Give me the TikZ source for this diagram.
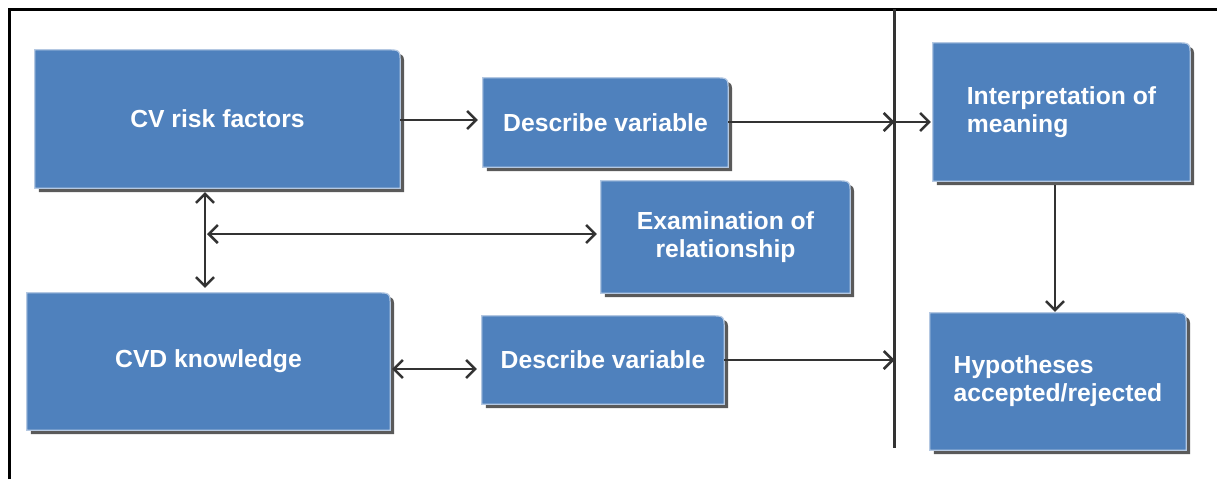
\documentclass[tikz,border=0pt]{standalone}
\usepackage{fontspec}
\setmainfont{Liberation Sans}
\usetikzlibrary{arrows.meta,backgrounds,calc}
\definecolor{boxblue}{HTML}{4F81BD}
\definecolor{boxedge}{HTML}{B4C8E2}
\definecolor{shadowc}{HTML}{5A5A5A}
\definecolor{linec}{HTML}{333333}
\newcommand\mybgshape[1]{%
  \fill[shadowc] ([shift={(4pt,-4pt)}]#1.south west) -- ([shift={(4pt,-4pt)}]#1.north west)
    -- ([shift={(-10pt,-4pt)}]#1.north east) .. controls ([shift={(4pt,-4pt)}]#1.north east) .. ([shift={(4pt,-18pt)}]#1.north east)
    -- ([shift={(4pt,-4pt)}]#1.south east) -- cycle;
  \filldraw[fill=boxblue,draw=boxedge,line width=1.2pt] (#1.south west) -- (#1.north west)
    -- ([xshift=-14pt]#1.north east) .. controls (#1.north east) .. ([yshift=-14pt]#1.north east)
    -- (#1.south east) -- cycle;
}
\tikzset{
  flowbox/.style={rectangle, inner sep=0pt, text=white,
    font=\fontsize{24.7pt}{28pt}\selectfont\bfseries},
  barb/.tip={Straight Barb[length=9pt,width=18pt,line width=2.5pt]},
  arr/.style={draw=linec, line width=2.5pt, -barb},
  darr/.style={draw=linec, line width=2.5pt, barb-barb},
}
\begin{document}
\begin{tikzpicture}[x=1pt,y=-1pt]
\useasboundingbox (0,0) rectangle (1217,479);
% frame
\coordinate (fbl) at (9,479);
\coordinate (ftl) at (9,9);
\coordinate (ftr) at (1217,9);
\draw[black, line width=3pt] (fbl) -- (ftl) -- (ftr);
% divider
\coordinate (dtop) at (894.5,9);
\coordinate (dbot) at (894.5,448);
\draw[linec, line width=2.5pt] (dtop) -- (dbot);
% nodes
\node[flowbox, minimum width=365pt, minimum height=138pt] (cv) at (217.5,119) {CV risk factors};
\node[flowbox, minimum width=245pt, minimum height=89pt] (dv1) at (605.5,122.5) {Describe variable};
\node[flowbox, minimum width=249pt, minimum height=112pt, align=center] (ex) at (725.5,237) {Examination of\\relationship};
\node[flowbox, minimum width=363pt, minimum height=137pt] (cvd) at (208.5,361.5) {CVD knowledge};
\node[flowbox, minimum width=242pt, minimum height=88pt] (dv2) at (603,360) {Describe variable};
\node[flowbox, minimum width=257pt, minimum height=138pt, align=left] (int) at (1061.5,112) {Interpretation of\\meaning};
\node[flowbox, minimum width=256pt, minimum height=137pt, align=left] (hyp) at (1058,381.5) {Hypotheses\\accepted/rejected};
\begin{scope}[on background layer]
\foreach \n in {cv,dv1,ex,cvd,dv2,int,hyp}{\mybgshape{\n}}
\end{scope}
% connectors
\draw[arr, shorten >=5pt] (cv.east |- 0,120) -- (dv1.west |- 0,120);
\draw[arr] (dv1.east |- 0,122) -- (dtop |- 0,122);
\draw[arr, shorten >=2pt] (dtop |- 0,122) -- (int.west |- 0,122);
\draw[darr, shorten <=4pt, shorten >=5pt] ([xshift=-12.5pt]cv.south) -- ([xshift=-12.5pt]cv.south |- cvd.north);
\draw[darr, shorten <=2pt, shorten >=4pt] ([xshift=-12.5pt]cv.south |- 0,234) -- (ex.west |- 0,234);
\draw[darr, shorten <=2pt, shorten >=5pt] ([yshift=-7.5pt]cvd.east) -- ([yshift=-7.5pt]cvd.east -| dv2.west);
\draw[arr] (dv2.east) -- (dv2.east -| dtop);
\draw[arr, shorten <=4pt, shorten >=1pt] ([xshift=-6.5pt]int.south) -- ([xshift=-6.5pt]int.south |- hyp.north);
\end{tikzpicture}
\end{document}
